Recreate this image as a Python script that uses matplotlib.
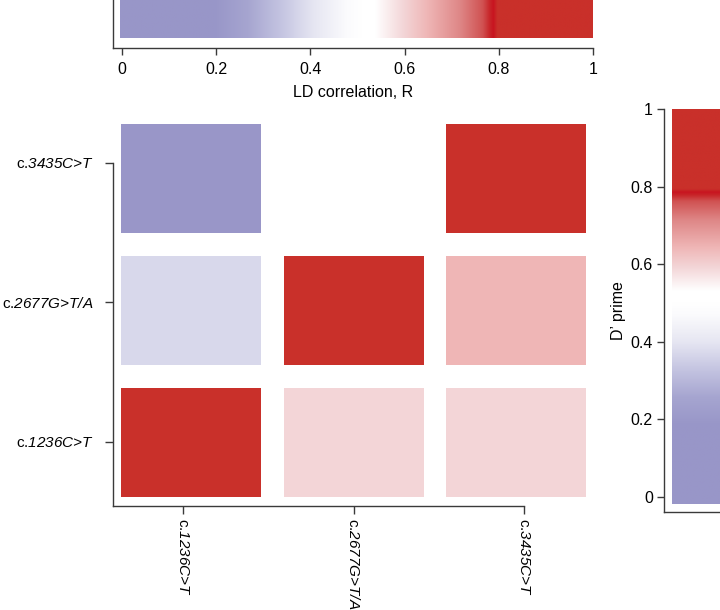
import numpy as np
import matplotlib
matplotlib.use('Agg')
import matplotlib.pyplot as plt
from matplotlib.colors import LinearSegmentedColormap

plt.rcParams['font.family'] = ['Liberation Sans', 'DejaVu Sans']
plt.rcParams['mathtext.fontset'] = 'custom'
plt.rcParams['mathtext.rm'] = 'Liberation Sans:italic'
plt.rcParams['mathtext.it'] = 'Liberation Sans:italic'
plt.rcParams['font.size'] = 11

# ---------------- data ----------------
snp_labels = [r'c.$\text{1236C>T}$', r'c.$\text{2677G>T/A}$', r'c.$\text{3435C>T}$']
# rows = SNP on y axis (bottom -> top), columns = SNP on x axis (left -> right)
row_1236 = [1.00, 0.60, 0.60]
row_2677 = [0.38, 1.00, 0.65]
row_3435 = [0.10, 0.52, 1.00]
cbar_ticks = [0, 0.2, 0.4, 0.6, 0.8, 1.0]
cbar_ticklabels = ['0', '0.2', '0.4', '0.6', '0.8', '1']

# colour scale (blue - white - red with a dark band near 0.8)
cmap_nodes = [(0.0, '#9996C8'), (0.20, '#9896C8'), (0.27, '#A6A5D0'),
              (0.34, '#C4C4E1'), (0.41, '#E6E6F2'), (0.48, '#FBFBFD'),
              (0.51, '#FFFFFF'), (0.54, '#FFFFFF'), (0.60, '#F3D5D7'),
              (0.65, '#EFB6B6'), (0.72, '#DE8686'), (0.767, '#D05252'),
              (0.782, '#C8262A'), (0.79, '#C81420'), (0.798, '#C9302A'),
              (1.0, '#C9302A')]
cmap = LinearSegmentedColormap.from_list('ld', cmap_nodes, N=1024)

W, H = 720, 610
fig = plt.figure(figsize=(W / 100, H / 100), dpi=100)

def px_axes(x0, y_top, x1, y_bot, **kw):
    return fig.add_axes([x0 / W, 1 - y_bot / H, (x1 - x0) / W, (y_bot - y_top) / H], **kw)

SP_COL = '#3a3a3a'
SP_LW = 1.0

# ---------------- heat map cells ----------------
ax_cells = px_axes(110, 112.5, 597.5, 508.5)
ax_cells.set_xlim(0.5, 3.5)
ax_cells.set_ylim(0.5, 3.5)
ax_cells.axis('off')
cols = np.arange(1, 4)
cw, ch = 0.862, 0.826
for i, row in enumerate([row_1236, row_2677, row_3435]):
    ax_cells.bar(cols, ch, bottom=i + 1 - ch / 2, width=cw,
                 color=cmap(np.array(row)), linewidth=0)

# ---------------- frame axes for the heat map ----------------
ax_fr = px_axes(113, 163, 524, 506)
ax_fr.set_facecolor('none')
ax_fr.set_xlim(0.589, 3)
ax_fr.set_ylim(0.541, 3)
for s in ['top', 'right']:
    ax_fr.spines[s].set_visible(False)
for s in ['left', 'bottom']:
    ax_fr.spines[s].set_color(SP_COL)
    ax_fr.spines[s].set_linewidth(SP_LW)
ax_fr.set_xticks([1, 2, 3])
ax_fr.set_xticklabels(snp_labels, rotation=-90)
ax_fr.set_yticks([1, 2, 3])
ax_fr.set_yticklabels(snp_labels)
ax_fr.tick_params(axis='x', length=5.5, width=SP_LW, color=SP_COL, pad=3.5)
ax_fr.tick_params(axis='y', length=5.5, width=SP_LW, color=SP_COL, pad=8.5)

# ---------------- top colour bar (LD correlation, R) ----------------
grad = np.linspace(0, 1, 1024)
ax_t = px_axes(113, -12, 593, 48)
ax_t.imshow(grad[np.newaxis, :], extent=(-0.0042, 1, 10 / 60, 1.0), aspect='auto',
            cmap=cmap, vmin=0, vmax=1, interpolation='bilinear')
ax_t.set_xlim(-0.0191, 1)
ax_t.set_ylim(0, 1)
for s in ['top', 'right']:
    ax_t.spines[s].set_visible(False)
for s in ['left', 'bottom']:
    ax_t.spines[s].set_color(SP_COL)
    ax_t.spines[s].set_linewidth(SP_LW)
ax_t.set_yticks([])
ax_t.set_xticks(cbar_ticks)
ax_t.set_xticklabels(cbar_ticklabels, fontsize=11.5)
ax_t.tick_params(axis='x', length=5, width=SP_LW, color=SP_COL, pad=5)
ax_t.set_xlabel('LD correlation, R', fontsize=11.5, labelpad=6)

# ---------------- right colour bar (D' prime) ----------------
ax_r = px_axes(664, 109, 744, 512)
ax_r.imshow(grad[:, np.newaxis], origin='lower', extent=(0.1, 1.0, -0.018, 1.0),
            aspect='auto', cmap=cmap, vmin=0, vmax=1, interpolation='bilinear')
ax_r.set_xlim(0, 1)
ax_r.set_ylim(-0.0387, 1)
for s in ['top', 'right']:
    ax_r.spines[s].set_visible(False)
for s in ['left', 'bottom']:
    ax_r.spines[s].set_color(SP_COL)
    ax_r.spines[s].set_linewidth(SP_LW)
ax_r.set_xticks([])
ax_r.set_yticks(cbar_ticks)
ax_r.set_yticklabels(cbar_ticklabels, fontsize=11.5)
ax_r.tick_params(axis='y', length=5, width=SP_LW, color=SP_COL, pad=3)
ax_r.set_ylabel('D\u2019 prime', fontsize=11.5, labelpad=3)

fig.savefig('out.png', dpi=100)
